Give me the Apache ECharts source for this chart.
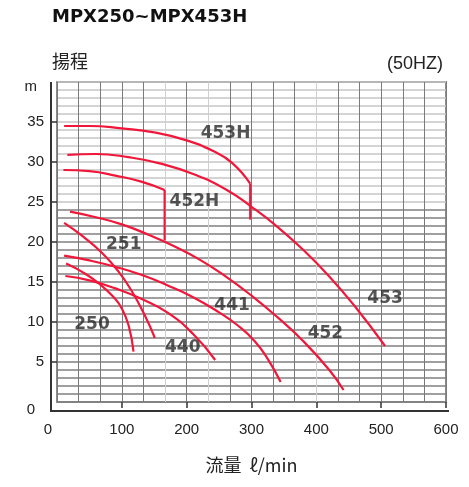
<!DOCTYPE html>
<html>
<head>
<meta charset="utf-8">
<script src="https://cdn.jsdelivr.net/npm/echarts@6/dist/echarts.min.js"></script>
<style>
  html, body { margin: 0; padding: 0; background: #fff; }
  #chart { width: 469px; height: 487px; }
</style>
</head>
<body>
<div id="chart"></div>
<script>
// pump curves, [flow l/min, head m]
const c453H = [[11, 34.5], [50, 34.5], [100, 34.2], [150, 33.7], [200, 32.7], [240, 31.4], [270, 29.9], [298, 27.3]];
const c453HDrop = [[298, 27.3], [298, 22.8]];
const c453 = [[16, 30.9], [60, 31.0], [110, 30.6], [160, 29.8], [210, 28.5], [260, 26.6], [300, 24.4], [340, 21.9], [380, 19.0], [420, 15.7], [460, 11.9], [506, 7.0]];
const c452H = [[10, 29.0], [50, 28.85], [90, 28.3], [130, 27.55], [166, 26.5]];
const c452HDrop = [[166, 26.5], [166, 20.2]];
const c452 = [[20, 23.8], [60, 23.1], [100, 22.2], [140, 20.95], [180, 19.5], [220, 17.8], [260, 15.7], [300, 13.3], [340, 10.6], [380, 7.6], [420, 4.0], [442, 1.5]];
const c251 = [[11, 22.4], [40, 20.7], [70, 18.6], [95, 16.3], [115, 13.9], [135, 10.9], [151, 8.0]];
const c250 = [[14, 17.3], [40, 16.2], [65, 14.8], [85, 13.3], [100, 11.7], [111, 9.4], [118, 6.3]];
const c441 = [[11, 18.3], [50, 17.7], [90, 16.9], [130, 15.9], [170, 14.6], [210, 13.1], [250, 11.2], [280, 9.5], [305, 7.6], [325, 5.4], [345, 2.5]];
const c440 = [[13, 15.75], [50, 15.2], [90, 14.2], [130, 12.9], [170, 11.2], [210, 8.5], [244, 5.25]];

// model labels
const labelNames = ['453H', '452H', '251', '250', '440', '441', '452', '453'];
const labelFlow = [260, 212, 103, 54, 194, 270, 414, 506];
const labelHead = [33.6, 25.1, 19.7, 9.7, 6.8, 12.0, 8.5, 12.9];

// ticks
const xTicks = [100, 200, 300, 400, 500, 600];
const yTicks = [5, 10, 15, 20, 25, 30, 35];

const RED = '#f0173a';
const chart = echarts.init(document.getElementById('chart'));

const curve = (data, smooth) => ({
    type: 'line', data: data, smooth: smooth ? 0.5 : false,
    showSymbol: false, lineStyle: { color: RED, width: 2.2 }, silent: true, z: 5
});

// grid line colours: some light, most darker
const vColors = [];
for (let i = 0; i <= 18; i++) vColors.push([5, 7, 12].includes(i) ? '#cfcfcf' : '#7a7a7a');
const hColors = [];
for (let i = 0; i <= 40; i++) hColors.push(i >= 25 ? '#c6c6c6' : '#808080');

chart.setOption({
    animation: false,
    title: {
        text: 'MPX250~MPX453H', left: 52, top: 8, padding: 0,
        textStyle: { fontFamily: 'DejaVu Sans', fontWeight: 'bold', fontSize: 18, color: '#111' }
    },
    grid: {
        left: 57, right: 23, top: 82, bottom: 85,
        show: true, borderColor: '#8c8c8c', borderWidth: 2
    },
    xAxis: [{
        type: 'value', min: 0, max: 600, interval: 100, offset: 8,
        axisLine: { show: false },
        axisTick: { customValues: xTicks, length: 6, lineStyle: { color: '#333', width: 1.5 } },
        axisLabel: { customValues: xTicks, margin: 12, fontSize: 15, color: '#222', fontFamily: 'Liberation Sans' },
        splitLine: { show: false },
        name: '流量  ℓ/min', nameLocation: 'middle', nameGap: 46,
        nameTextStyle: { fontSize: 18, color: '#222', fontFamily: 'Noto Sans CJK JP' }
    }, {
        type: 'value', min: 0, max: 600, interval: 600 / 18, position: 'top',
        axisLine: { show: false }, axisTick: { show: false }, axisLabel: { show: false },
        splitLine: { show: true, lineStyle: { color: vColors, width: 1 } }
    }],
    yAxis: [{
        type: 'value', min: 0, max: 40, interval: 5, offset: 6,
        axisLine: { show: false },
        axisTick: { customValues: yTicks, length: 7, lineStyle: { color: '#333', width: 1.5 } },
        axisLabel: { customValues: yTicks, margin: 7, fontSize: 15, color: '#222', fontFamily: 'Liberation Sans' },
        splitLine: { show: false }
    }, {
        type: 'value', min: 0, max: 40, interval: 1, position: 'right',
        axisLine: { show: false }, axisTick: { show: false }, axisLabel: { show: false },
        splitLine: { show: true, lineStyle: { color: hColors, width: 1.5 } }
    }],
    graphic: [
        { type: 'polyline', shape: { points: [[51, 82], [51, 411], [449, 411]] },
          style: { stroke: '#333', lineWidth: 2, fill: null }, z: 10 },
        { type: 'text', left: 52, top: 52,
          style: { text: '揚程', fontSize: 18, fill: '#222', fontFamily: 'Noto Sans CJK JP' } },
        { type: 'text', right: 26, top: 55,
          style: { text: '(50HZ)', fontSize: 18, fill: '#222', fontFamily: 'Liberation Sans' } },
        { type: 'text', x: 37, y: 87,
          style: { text: 'm', fontSize: 15, fill: '#222', align: 'right', verticalAlign: 'middle', fontFamily: 'Liberation Sans' } },
        { type: 'text', x: 35, y: 410,
          style: { text: '0', fontSize: 15, fill: '#222', align: 'right', verticalAlign: 'middle', fontFamily: 'Liberation Sans' } },
        { type: 'text', x: 48, y: 430,
          style: { text: '0', fontSize: 15, fill: '#222', align: 'center', verticalAlign: 'middle', fontFamily: 'Liberation Sans' } }
    ],
    series: [
        curve(c453H, true), curve(c453HDrop, false),
        curve(c453, true),
        curve(c452H, true), curve(c452HDrop, false),
        curve(c452, true), curve(c251, true), curve(c250, true),
        curve(c441, true), curve(c440, true),
        {
            type: 'scatter', symbolSize: 0, silent: true, z: 6,
            data: labelNames.map((n, i) => ({ name: n, value: [labelFlow[i], labelHead[i]] })),
            label: {
                show: true, position: 'inside', formatter: '{b}',
                fontFamily: 'DejaVu Sans', fontWeight: 'bold', fontSize: 17, color: '#2a2a2a'
            }
        }
    ]
});
</script>
</body>
</html>
